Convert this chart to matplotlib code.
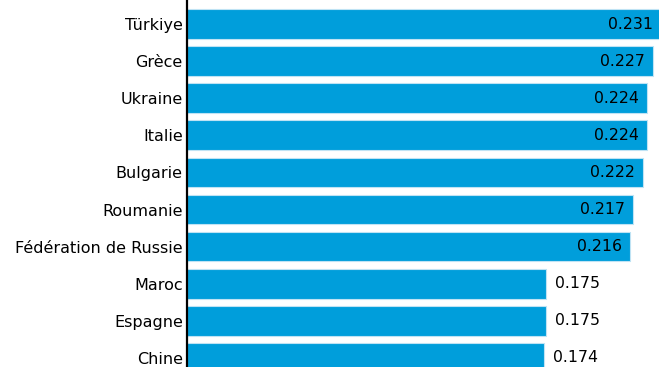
import matplotlib.pyplot as plt

# données
pays = ["Türkiye", "Grèce", "Ukraine", "Italie", "Bulgarie", "Roumanie",
        "Fédération de Russie", "Maroc", "Espagne", "Chine"]
valeurs = [0.231, 0.227, 0.224, 0.224, 0.222, 0.217, 0.216, 0.175, 0.175, 0.174]
etiquettes = ["0.231", "0.227", "0.224", "0.224", "0.222", "0.217", "0.216",
              "0.175", "0.175", "0.174"]

fig = plt.figure(figsize=(6.59, 3.67), dpi=100)
ax = fig.add_axes([187 / 659, 0, 1 - 187 / 659, 1])

pos = list(range(len(pays)))
ax.barh(pos, valeurs, height=0.8, color="#009edb", edgecolor="#bfe3f4", linewidth=0.8)

ax.set_xlim(0, 0.2299)
ax.set_ylim(9.245, -0.647)

for i, (v, txt) in enumerate(zip(valeurs, etiquettes)):
    if v > 0.2:
        ax.annotate(txt, (v, i), xytext=(-8, 0), textcoords="offset pixels",
                    ha="right", va="center", fontsize=11.3, color="black",
                    annotation_clip=False)
    else:
        ax.annotate(txt, (v, i), xytext=(9, 0), textcoords="offset pixels",
                    ha="left", va="center", fontsize=11.3, color="black",
                    annotation_clip=False)

ax.set_yticks(pos)
ax.set_yticklabels(pays, fontsize=11.5)
ax.tick_params(axis="y", length=0, pad=3)
ax.set_xticks([])
for s in ["top", "right", "bottom"]:
    ax.spines[s].set_visible(False)
ax.spines["left"].set_linewidth(1.6)
ax.spines["left"].set_color("black")

fig.savefig("out.png", dpi=100)
